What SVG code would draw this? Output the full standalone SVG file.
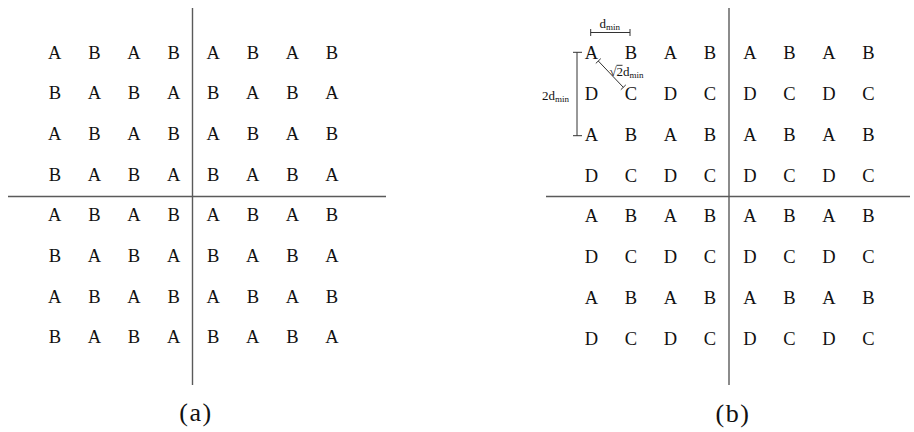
<svg xmlns="http://www.w3.org/2000/svg" width="914" height="432" viewBox="0 0 914 432">
<style>
.l{font-family:"Liberation Serif","Times New Roman",serif;font-size:18.5px;fill:#111;text-anchor:middle}
.ax{stroke:#5a5a5a;stroke-width:1.4;fill:none}
.dim{stroke:#333;stroke-width:1;fill:none}
.an{font-family:"Liberation Serif","Times New Roman",serif;font-size:13px;fill:#111}
.cap{font-family:"Liberation Serif","Times New Roman",serif;font-size:26px;fill:#111;text-anchor:middle;letter-spacing:1.5px}
</style>
<rect width="914" height="432" fill="#fff"/>
<g id="connectors">
<line class="ax" x1="192.5" y1="8" x2="192.5" y2="385"/>
<line class="ax" x1="8" y1="196.5" x2="386" y2="196.5"/>
<line class="ax" x1="729" y1="8" x2="729" y2="385"/>
<line class="ax" x1="546" y1="196.5" x2="910" y2="196.5"/>
<line class="dim" x1="590.7" y1="32.5" x2="630" y2="32.5"/>
<line class="dim" x1="590.7" y1="29" x2="590.7" y2="36"/>
<line class="dim" x1="630" y1="29" x2="630" y2="36"/>
<line class="dim" x1="577" y1="52.3" x2="577" y2="135.7"/>
<line class="dim" x1="573" y1="52.3" x2="582" y2="52.3"/>
<line class="dim" x1="573" y1="135.7" x2="582" y2="135.7"/>
<line class="dim" x1="598.3" y1="61" x2="623.3" y2="87.3"/>
<line class="dim" x1="595.8" y1="63.4" x2="600.8" y2="58.6"/>
<line class="dim" x1="620.8" y1="89.7" x2="625.8" y2="84.9"/>
</g>
<g id="panel-a">
<text class="l" x="54.8" y="58.5">A</text><text class="l" x="94.4" y="58.5">B</text><text class="l" x="134" y="58.5">A</text><text class="l" x="173.6" y="58.5">B</text><text class="l" x="213.2" y="58.5">A</text><text class="l" x="252.8" y="58.5">B</text><text class="l" x="292.4" y="58.5">A</text><text class="l" x="332" y="58.5">B</text>
<text class="l" x="54.8" y="99.2">B</text><text class="l" x="94.4" y="99.2">A</text><text class="l" x="134" y="99.2">B</text><text class="l" x="173.6" y="99.2">A</text><text class="l" x="213.2" y="99.2">B</text><text class="l" x="252.8" y="99.2">A</text><text class="l" x="292.4" y="99.2">B</text><text class="l" x="332" y="99.2">A</text>
<text class="l" x="54.8" y="139.9">A</text><text class="l" x="94.4" y="139.9">B</text><text class="l" x="134" y="139.9">A</text><text class="l" x="173.6" y="139.9">B</text><text class="l" x="213.2" y="139.9">A</text><text class="l" x="252.8" y="139.9">B</text><text class="l" x="292.4" y="139.9">A</text><text class="l" x="332" y="139.9">B</text>
<text class="l" x="54.8" y="180.6">B</text><text class="l" x="94.4" y="180.6">A</text><text class="l" x="134" y="180.6">B</text><text class="l" x="173.6" y="180.6">A</text><text class="l" x="213.2" y="180.6">B</text><text class="l" x="252.8" y="180.6">A</text><text class="l" x="292.4" y="180.6">B</text><text class="l" x="332" y="180.6">A</text>
<text class="l" x="54.8" y="221.3">A</text><text class="l" x="94.4" y="221.3">B</text><text class="l" x="134" y="221.3">A</text><text class="l" x="173.6" y="221.3">B</text><text class="l" x="213.2" y="221.3">A</text><text class="l" x="252.8" y="221.3">B</text><text class="l" x="292.4" y="221.3">A</text><text class="l" x="332" y="221.3">B</text>
<text class="l" x="54.8" y="262">B</text><text class="l" x="94.4" y="262">A</text><text class="l" x="134" y="262">B</text><text class="l" x="173.6" y="262">A</text><text class="l" x="213.2" y="262">B</text><text class="l" x="252.8" y="262">A</text><text class="l" x="292.4" y="262">B</text><text class="l" x="332" y="262">A</text>
<text class="l" x="54.8" y="302.7">A</text><text class="l" x="94.4" y="302.7">B</text><text class="l" x="134" y="302.7">A</text><text class="l" x="173.6" y="302.7">B</text><text class="l" x="213.2" y="302.7">A</text><text class="l" x="252.8" y="302.7">B</text><text class="l" x="292.4" y="302.7">A</text><text class="l" x="332" y="302.7">B</text>
<text class="l" x="54.8" y="343.4">B</text><text class="l" x="94.4" y="343.4">A</text><text class="l" x="134" y="343.4">B</text><text class="l" x="173.6" y="343.4">A</text><text class="l" x="213.2" y="343.4">B</text><text class="l" x="252.8" y="343.4">A</text><text class="l" x="292.4" y="343.4">B</text><text class="l" x="332" y="343.4">A</text>
<text class="cap" x="196" y="421">(a)</text>
</g>
<g id="panel-b">
<text class="l" x="591.5" y="59">A</text><text class="l" x="631" y="59">B</text><text class="l" x="670.5" y="59">A</text><text class="l" x="710" y="59">B</text><text class="l" x="750" y="59">A</text><text class="l" x="789.5" y="59">B</text><text class="l" x="829" y="59">A</text><text class="l" x="868.5" y="59">B</text>
<text class="l" x="591.5" y="99.9">D</text><text class="l" x="631" y="99.9">C</text><text class="l" x="670.5" y="99.9">D</text><text class="l" x="710" y="99.9">C</text><text class="l" x="750" y="99.9">D</text><text class="l" x="789.5" y="99.9">C</text><text class="l" x="829" y="99.9">D</text><text class="l" x="868.5" y="99.9">C</text>
<text class="l" x="591.5" y="140.7">A</text><text class="l" x="631" y="140.7">B</text><text class="l" x="670.5" y="140.7">A</text><text class="l" x="710" y="140.7">B</text><text class="l" x="750" y="140.7">A</text><text class="l" x="789.5" y="140.7">B</text><text class="l" x="829" y="140.7">A</text><text class="l" x="868.5" y="140.7">B</text>
<text class="l" x="591.5" y="181.6">D</text><text class="l" x="631" y="181.6">C</text><text class="l" x="670.5" y="181.6">D</text><text class="l" x="710" y="181.6">C</text><text class="l" x="750" y="181.6">D</text><text class="l" x="789.5" y="181.6">C</text><text class="l" x="829" y="181.6">D</text><text class="l" x="868.5" y="181.6">C</text>
<text class="l" x="591.5" y="222.4">A</text><text class="l" x="631" y="222.4">B</text><text class="l" x="670.5" y="222.4">A</text><text class="l" x="710" y="222.4">B</text><text class="l" x="750" y="222.4">A</text><text class="l" x="789.5" y="222.4">B</text><text class="l" x="829" y="222.4">A</text><text class="l" x="868.5" y="222.4">B</text>
<text class="l" x="591.5" y="263.3">D</text><text class="l" x="631" y="263.3">C</text><text class="l" x="670.5" y="263.3">D</text><text class="l" x="710" y="263.3">C</text><text class="l" x="750" y="263.3">D</text><text class="l" x="789.5" y="263.3">C</text><text class="l" x="829" y="263.3">D</text><text class="l" x="868.5" y="263.3">C</text>
<text class="l" x="591.5" y="304.1">A</text><text class="l" x="631" y="304.1">B</text><text class="l" x="670.5" y="304.1">A</text><text class="l" x="710" y="304.1">B</text><text class="l" x="750" y="304.1">A</text><text class="l" x="789.5" y="304.1">B</text><text class="l" x="829" y="304.1">A</text><text class="l" x="868.5" y="304.1">B</text>
<text class="l" x="591.5" y="345">D</text><text class="l" x="631" y="345">C</text><text class="l" x="670.5" y="345">D</text><text class="l" x="710" y="345">C</text><text class="l" x="750" y="345">D</text><text class="l" x="789.5" y="345">C</text><text class="l" x="829" y="345">D</text><text class="l" x="868.5" y="345">C</text>
<text class="an" x="599.5" y="28.3">d<tspan font-size="9" dy="1.8">min</tspan></text>
<text class="an" x="542" y="100">2d<tspan font-size="9" dy="1.8">min</tspan></text>
<text class="an" x="609.5" y="76">√</text>
<line class="dim" x1="616.5" y1="65.3" x2="622.5" y2="65.3"/>
<text class="an" x="616.5" y="76">2d<tspan font-size="9" dy="1.8">min</tspan></text>
<text class="cap" x="733" y="422">(b)</text>
</g>
</svg>
